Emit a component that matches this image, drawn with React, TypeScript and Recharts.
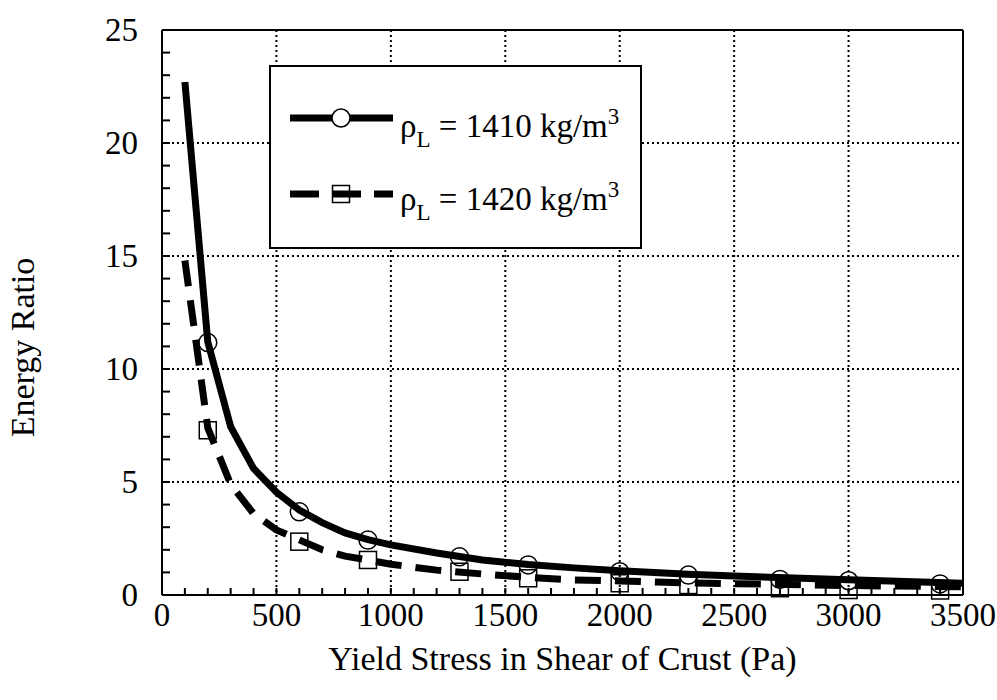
import { ComposedChart, Line, Scatter, XAxis, YAxis, CartesianGrid, Legend } from 'recharts'

const FONT = '"Liberation Serif", "Times New Roman", serif'

// curves (polylines)
const curveX1410 = [100, 200, 300, 400, 500, 600, 700, 800, 900, 1000, 1200, 1400, 1600, 1800, 2000, 2300, 2500, 3000, 3500]
const curveY1410 = [22.7, 11.2, 7.45, 5.6, 4.55, 3.76, 3.2, 2.75, 2.45, 2.22, 1.86, 1.55, 1.35, 1.2, 1.07, 0.92, 0.84, 0.68, 0.52]
const curveX1420 = [100, 200, 300, 400, 500, 600, 700, 800, 900, 1000, 1200, 1400, 1600, 1800, 2000, 2200, 2500, 3000, 3500]
const curveY1420 = [14.8, 7.4, 4.9, 3.6, 2.88, 2.44, 2.0, 1.72, 1.55, 1.36, 1.1, 0.93, 0.78, 0.67, 0.62, 0.56, 0.5, 0.42, 0.36]

// markers
const markX = [200, 600, 900, 1300, 1600, 2000, 2300, 2700, 3000, 3400]
const markY1410 = [11.17, 3.68, 2.43, 1.69, 1.33, 1.03, 0.88, 0.69, 0.63, 0.49]
const markY1420 = [7.29, 2.36, 1.55, 1.03, 0.74, 0.52, 0.44, 0.3, 0.22, 0.2]

const seriesValues = ['1410', '1420']

const xGrid = [500, 1000, 1500, 2000, 2500, 3000]
const yGrid = [5, 10, 15, 20]
const xTicks = Array.from({ length: 36 }, (_, i) => i * 100)
const yTicks = Array.from({ length: 26 }, (_, i) => i)

const zip = (xs: number[], ys: number[]) => xs.map((x, i) => ({ x, y: ys[i] }))
const line1410 = zip(curveX1410, curveY1410)
const line1420 = zip(curveX1420, curveY1420)
const pts1410 = zip(markX, markY1410)
const pts1420 = zip(markX, markY1420)

const XTick = (p: any) => {
  if (p.payload.value % 500 !== 0) return <g />
  return (
    <text x={p.x} y={p.y} dy={31} textAnchor="middle" fontFamily={FONT} fontSize={33} fill="#000">
      {p.payload.value}
    </text>
  )
}

const YTick = (p: any) => {
  if (p.payload.value % 5 !== 0) return <g />
  return (
    <text x={p.x} y={p.y} dy={11} textAnchor="end" fontFamily={FONT} fontSize={33} fill="#000">
      {p.payload.value}
    </text>
  )
}

const Circle = (p: any) => <circle cx={p.cx} cy={p.cy} r={9} fill="none" stroke="#000" strokeWidth={1.5} />
const Square = (p: any) => <rect x={p.cx - 8.5} y={p.cy - 8.5} width={17} height={17} fill="none" stroke="#000" strokeWidth={1.5} />

const YLabel = (p: any) => {
  const vb = p.viewBox
  return (
    <text transform={`translate(${vb.x + 34}, ${vb.y + vb.height / 2 + 35}) rotate(-90)`} textAnchor="middle"
      fontFamily={FONT} fontSize={34} fill="#000">Energy Ratio</text>
  )
}

const LegendBox = () => {
  const rows = [
    { y: 51, base: 70, dash: undefined, mark: 'circle', val: seriesValues[0] },
    { y: 127, base: 143, dash: '29 13', mark: 'square', val: seriesValues[1] },
  ]
  return (
    <div style={{ width: 369, height: 180, border: '2px solid #000', background: '#fff' }}>
      <svg width={369} height={180}>
        {rows.map(r => (
          <g key={r.val}>
            <line x1={19} x2={122} y1={r.y} y2={r.y} stroke="#000" strokeWidth={7} strokeDasharray={r.dash} />
            {r.mark === 'circle'
              ? <circle cx={70} cy={r.y} r={9} fill="#fff" stroke="#000" strokeWidth={1.5} />
              : <rect x={61.5} y={r.y - 8.5} width={17} height={17} fill="none" stroke="#000" strokeWidth={1.5} />}
            <text x={129} y={r.base} fontFamily={FONT} fontSize={33} fill="#000">
              <tspan>ρ</tspan>
              <tspan dy={10} fontSize={23}>L</tspan>
              <tspan dy={-10}>{` = ${r.val} kg/m`}</tspan>
              <tspan dy={-13} fontSize={23}>3</tspan>
            </text>
          </g>
        ))}
      </svg>
    </div>
  )
}

export default function App() {
  return (
    <div style={{ position: 'absolute', left: 0, top: 0, width: 997, height: 700, background: '#fff' }}>
      <ComposedChart width={997} height={700} margin={{ top: 0, right: 0, bottom: 0, left: 0 }}>
        <CartesianGrid verticalValues={xGrid} horizontalValues={yGrid} stroke="#000" strokeWidth={2} strokeDasharray="2 3" />
        <XAxis type="number" dataKey="x" domain={[0, 3500]} ticks={xTicks} interval={0} height={105}
          axisLine={{ stroke: '#000', strokeWidth: 2 }} tickLine={{ stroke: '#000', strokeWidth: 2 }}
          tickSize={-7} tickMargin={7} tick={<XTick />}
          label={{ value: 'Yield Stress in Shear of Crust (Pa)', position: 'insideBottom', offset: 30,
            style: { fontFamily: FONT, fontSize: 34, fill: '#000' } }} />
        <XAxis xAxisId="top" orientation="top" type="number" dataKey="x" domain={[0, 3500]} ticks={xTicks} interval={0}
          height={30} axisLine={{ stroke: '#000', strokeWidth: 2 }} tickLine={{ stroke: '#000', strokeWidth: 2 }}
          tickSize={-7} tick={false} />
        <YAxis type="number" domain={[0, 25]} ticks={yTicks} interval={0} width={162}
          axisLine={{ stroke: '#000', strokeWidth: 2 }} tickLine={{ stroke: '#000', strokeWidth: 2 }}
          tickSize={-8} tickMargin={32} tick={<YTick />} label={<YLabel />} />
        <YAxis yAxisId="right" orientation="right" type="number" domain={[0, 25]} ticks={yTicks} interval={0} width={34}
          axisLine={{ stroke: '#000', strokeWidth: 2 }} tickLine={{ stroke: '#000', strokeWidth: 2 }}
          tickSize={-8} tick={false} />
        <Legend layout="vertical" align="center" verticalAlign="middle" content={<LegendBox />}
          wrapperStyle={{ position: 'absolute', left: 269, top: 65, width: 373, height: 184 }} />
        <Line data={line1410} dataKey="y" type="linear" stroke="#000" strokeWidth={7} dot={false} isAnimationActive={false} />
        <Line data={line1420} dataKey="y" type="linear" stroke="#000" strokeWidth={7} strokeDasharray="26 14" dot={false} isAnimationActive={false} />
        <Line data={line1410} dataKey="y" xAxisId="top" yAxisId="right" stroke="none" dot={false} legendType="none" isAnimationActive={false} />
        <Scatter data={pts1410} dataKey="y" shape={<Circle />} isAnimationActive={false} />
        <Scatter data={pts1420} dataKey="y" shape={<Square />} isAnimationActive={false} />
      </ComposedChart>
    </div>
  )
}
